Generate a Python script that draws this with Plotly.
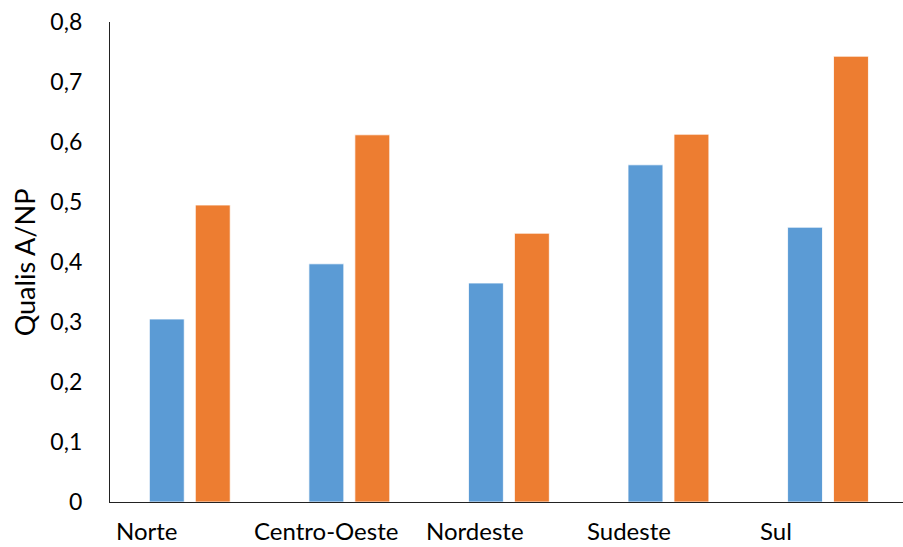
import plotly.graph_objects as go

categories = ["Norte", "Centro-Oeste", "Nordeste", "Sudeste", "Sul"]
series_a = [0.305, 0.397, 0.365, 0.562, 0.458]
series_b = [0.495, 0.612, 0.448, 0.613, 0.743]
y_tickvals = [0, 0.1, 0.2, 0.3, 0.4, 0.5, 0.6, 0.7, 0.8]
y_ticktext = ["0", "0,1", "0,2", "0,3", "0,4", "0,5", "0,6", "0,7", "0,8"]
y_title = "Qualis A/NP"

# label horizontal shifts (style, px) to mimic the reference's label placement
label_shift = [-75, -96, -84, -82, -69]

FONT = "Lato"
idx = list(range(len(categories)))

fig = go.Figure()
fig.add_trace(go.Bar(x=idx, y=series_a, marker=dict(color="#5B9BD5", line=dict(color="white", width=0.8)), showlegend=False))
fig.add_trace(go.Bar(x=idx, y=series_b, marker=dict(color="#ED7D31", line=dict(color="white", width=0.8)), showlegend=False))

for i, (c, s) in enumerate(zip(categories, label_shift)):
    fig.add_annotation(x=i, y=-0.0925, xref="x", yref="paper", text=c, showarrow=False,
                       xanchor="left", yanchor="bottom", xshift=s, borderpad=0,
                       font=dict(family=FONT, size=24, color="#000000"))

fig.add_annotation(x=-0.108, y=0.5, xref="paper", yref="paper", text=y_title, showarrow=False,
                   textangle=-90, xanchor="center", yanchor="middle",
                   font=dict(family=FONT, size=27, color="#000000"))

fig.update_layout(
    width=903, height=547,
    margin=dict(l=110, r=0, t=22, b=45),
    paper_bgcolor="white", plot_bgcolor="white",
    barmode="group", bargap=0.424, bargroupgap=0.24,
    xaxis=dict(range=[-0.5, 4.47], showticklabels=False, ticks="", showgrid=False, zeroline=False,
               showline=True, linecolor="#222222", linewidth=1.3),
    yaxis=dict(range=[0, 0.8], tickvals=y_tickvals, ticktext=y_ticktext, showgrid=False, zeroline=False,
               showline=True, linecolor="#222222", linewidth=1.3, ticks="", ticklabelstandoff=22,
               tickfont=dict(family=FONT, size=23, color="#000000")),
)

fig.write_html("out.html")
